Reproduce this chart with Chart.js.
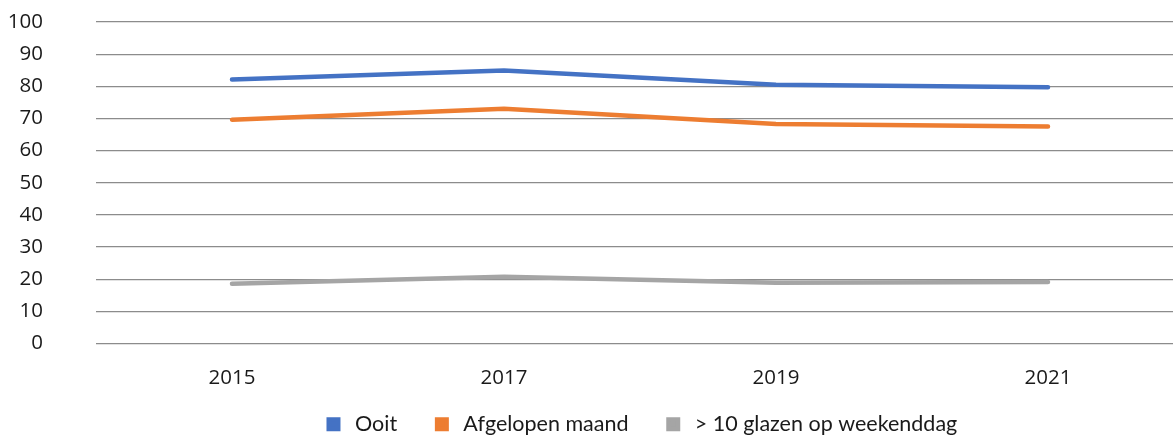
<!DOCTYPE html>
<html>
<head>
<meta charset="utf-8">
<script src="https://cdn.jsdelivr.net/npm/chart.js@4"></script>
<style>
  html, body { margin: 0; padding: 0; background: #fff; overflow: hidden; }
  #wrap { width: 1280px; height: 436px; }
</style>
</head>
<body>
<div id="wrap"><canvas id="chart"></canvas></div>
<script>
const years = ['2015', '2017', '2019', '2021'];
const ooit = [82.1, 84.9, 80.5, 79.7];
const afgelopenMaand = [69.6, 73.0, 68.3, 67.5];
const glazenWeekenddag = [18.6, 20.8, 18.9, 19.1];

const ctx = document.getElementById('chart').getContext('2d');

function line(label, data, color) {
  return {
    label: label,
    data: data,
    borderColor: color,
    backgroundColor: color,
    borderWidth: 4.5,
    borderCapStyle: 'round',
    pointRadius: 0,
    pointHoverRadius: 0,
    tension: 0
  };
}

new Chart(ctx, {
  type: 'line',
  data: {
    labels: years,
    datasets: [
      line('Ooit', ooit, '#4472C4'),
      line('Afgelopen maand', afgelopenMaand, '#ED7D31'),
      line('> 10 glazen op weekenddag', glazenWeekenddag, '#A5A5A5')
    ]
  },
  options: {
    responsive: true,
    maintainAspectRatio: false,
    animation: false,
    layout: { padding: { left: 0, right: 0, top: 22, bottom: -9 } },
    scales: {
      x: {
        offset: true,
        // labels sit lower than the axis box, mirror keeps them from being clipped
        afterFit: (scale) => { scale.height = 36; },
        grid: { display: false, drawTicks: false },
        border: { display: false },
        ticks: {
          mirror: true,
          padding: -47,
          color: '#1a1a1a',
          font: { family: 'Open Sans', size: 20.5 }
        }
      },
      y: {
        min: 0,
        max: 100,
        afterFit: (scale) => { scale.width = 96; },
        grid: { color: '#8c8c8c', lineWidth: 1.2, drawTicks: true, tickLength: 53, tickColor: 'rgba(0,0,0,0)' },
        border: { display: false },
        ticks: {
          stepSize: 10,
          padding: 0,
          color: '#1a1a1a',
          font: { family: 'Open Sans', size: 20.5 }
        }
      },
      // empty axis on the right, keeps the plot centred like the original
      yRight: {
        position: 'right',
        min: 0,
        max: 100,
        afterFit: (scale) => { scale.width = 96; },
        grid: { display: false },
        border: { display: false },
        ticks: { display: false }
      }
    },
    plugins: {
      legend: {
        position: 'bottom',
        labels: {
          usePointStyle: true,
          pointStyle: 'rect',
          boxWidth: 21.5,
          boxHeight: 9.5,
          padding: 34,
          color: '#1a1a1a',
          font: { family: 'Lato', size: 21.5 }
        }
      },
      tooltip: { enabled: false }
    }
  }
});
</script>
</body>
</html>
